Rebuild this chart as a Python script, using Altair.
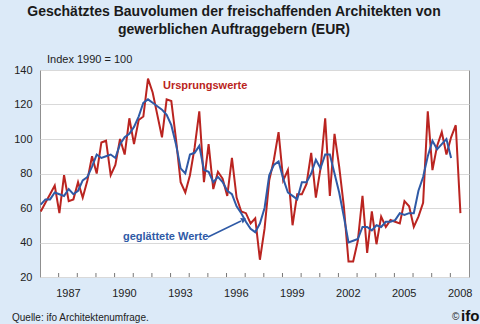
import altair as alt
import pandas as pd

START_YEAR = 1986  # first quarter: 1986 Q1

ursprungswerte = [58, 63, 68, 73, 57, 79, 64, 65, 75, 66, 76, 90, 80, 98, 99, 79,
                  85, 100, 91, 112, 97, 111, 113, 135, 127, 114, 101, 123, 122, 100,
                  75, 69, 79, 95, 116, 75, 97, 71, 81, 77, 67, 89, 66, 58, 57, 51,
                  54, 30, 48, 76, 88, 104, 76, 82, 50, 68, 68, 74, 92, 66, 83, 112,
                  67, 103, 84, 61, 29, 29, 41, 67, 34, 58, 39, 55, 49, 53, 52, 51,
                  64, 61, 49, 55, 63, 116, 82, 96, 104, 91, 101, 108, 57]

geglaettet = [62, 65, 65, 69, 68, 67, 71, 68, 70, 76, 78, 84, 91, 89, 90, 91,
              89, 97, 101, 103, 107, 113, 121, 123, 121, 119, 117, 114, 108, 97,
              83, 80, 91, 92, 96, 82, 81, 75, 78, 75, 70, 68, 61, 57, 52, 48,
              46, 51, 60, 79, 85, 87, 77, 69, 67, 65, 75, 75, 80, 88, 83, 91,
              91, 80, 69, 55, 40, 41, 42, 49, 49, 47, 50, 49, 52, 52, 53, 57,
              56, 57, 57, 70, 78, 90, 99, 94, 97, 100, 89]

label_years = [1987, 1990, 1993, 1996, 1999, 2002, 2005, 2008]
tick_years = list(range(1987, 2009))
y_ticks = [20, 40, 60, 80, 100, 120, 140]

RED = "#BA2420"
BLUE = "#2F5AA6"
FONT = "Liberation Sans"


def quarter_time(i):
    return START_YEAR + i * 0.25 + 0.04


red_df = pd.DataFrame({"t": [quarter_time(i) for i in range(len(ursprungswerte))],
                       "v": ursprungswerte})
blue_df = pd.DataFrame({"t": [quarter_time(i) for i in range(len(geglaettet))],
                        "v": geglaettet})
tick_df = pd.DataFrame({"t": tick_years})
one = alt.Data(values=[{"a": 1}])

xscale = alt.Scale(domain=[1986, 2009], nice=False, zero=False)
yscale = alt.Scale(domain=[20, 140], nice=False, zero=False)

xaxis = alt.Axis(values=[y + 0.5 for y in label_years], labelExpr="'' + floor(datum.value)",
                 ticks=False, domain=False, grid=False, title=None, labelFont=FONT,
                 labelFontSize=11, labelColor="#222222", labelPadding=10,
                 labelOverlap=False)
yaxis = alt.Axis(values=y_ticks, ticks=False, domain=False, grid=True, gridColor="#D9D9D9",
                 title=None, labelFont=FONT, labelFontSize=11, labelColor="#222222",
                 labelPadding=8, labelOverlap=False, labelBound=False)

X = alt.X("t:Q", scale=xscale, axis=xaxis)
Y = alt.Y("v:Q", scale=yscale, axis=yaxis)

red_line = alt.Chart(red_df).mark_line(color=RED, strokeWidth=2).encode(x=X, y=Y)
blue_line = alt.Chart(blue_df).mark_line(color=BLUE, strokeWidth=2).encode(x=X, y=Y)
ticks = alt.Chart(tick_df).mark_rule(color="#777777", strokeWidth=1).encode(
    x=X,
    y=alt.value(207),
    y2=alt.value(203),
)


def label(text, x, y, size=11, weight="normal", color="#222222", align="left"):
    return alt.Chart(one).mark_text(text=text, font=FONT, fontSize=size, fontWeight=weight,
                                    color=color, align=align, baseline="middle").encode(
        x=alt.value(x), y=alt.value(y))


title1 = label("Geschätztes Bauvolumen der freischaffenden Architekten von", 194, -58,
               size=14, weight="bold", color="#1A1A1A", align="center")
title2 = label("gewerblichen Auftraggebern (EUR)", 194, -40,
               size=14, weight="bold", color="#1A1A1A", align="center")
index_txt = label("Index 1990 = 100", 7, -10)
urs_txt = label("Ursprungswerte", 123, 16, weight="bold", color=RED)
gegl_txt = label("geglättete Werte", 83, 167, weight="bold", color=BLUE)
source = label("Quelle: ifo Architektenumfrage.", -28, 248, size=10)
copy = label("©", 412, 247, size=10)
ifo = label("ifo", 421, 246, size=15, weight="bold", color="#111111")

arrow = alt.Chart(one).mark_rule(color=BLUE, strokeWidth=1.5).encode(
    x=alt.value(168), y=alt.value(167), x2=alt.value(201), y2=alt.value(151))
head = alt.Chart(one).mark_point(shape="triangle", filled=True, size=35, angle=64,
                                 color=BLUE, opacity=1).encode(
    x=alt.value(203), y=alt.value(150))

chart = alt.layer(
    red_line, blue_line, ticks, arrow, head,
    title1, title2, index_txt, urs_txt, gegl_txt, source, copy, ifo,
).properties(
    width=429, height=207,
    autosize=alt.AutoSizeParams(type="none"),
    padding={"left": 40, "top": 70, "right": 11, "bottom": 47},
    background="#DCEAF8",
).configure_view(
    fill="white", stroke="#8F8F8F", strokeWidth=1,
)

chart.save("out.html", embed_options={"renderer": "svg", "actions": False})
